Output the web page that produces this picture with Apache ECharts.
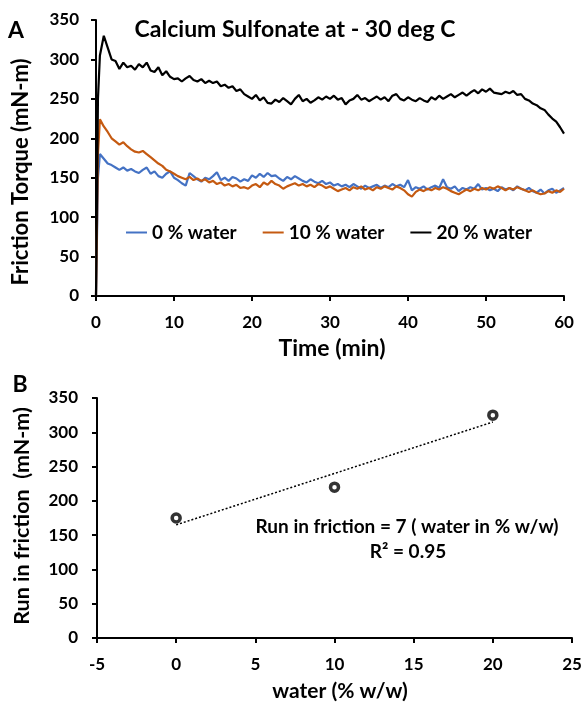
<!DOCTYPE html>
<html><head><meta charset="utf-8">
<script src="https://cdn.jsdelivr.net/npm/echarts@6/dist/echarts.min.js"></script>
<style>html,body{margin:0;padding:0;background:#fff}#c{width:585px;height:705px}</style>
</head><body><div id="c"></div>
<script>
// ---- Panel A data: friction torque (mN-m) vs time (min) ----
const times = [0,0.25,0.5,
 1,1.5,2,2.5,3,3.5,4,4.5,5,5.5,6,6.5,7,7.5,8,8.5,9,9.5,10,
 10.5,11,11.5,12,12.5,13,13.5,14,14.5,15,15.5,16,16.5,17,17.5,18,18.5,19,19.5,20,
 20.5,21,21.5,22,22.5,23,23.5,24,24.5,25,25.5,26,26.5,27,27.5,28,28.5,29,29.5,30,
 30.5,31,31.5,32,32.5,33,33.5,34,34.5,35,35.5,36,36.5,37,37.5,38,38.5,39,39.5,40,
 40.5,41,41.5,42,42.5,43,43.5,44,44.5,45,45.5,46,46.5,47,47.5,48,48.5,49,49.5,50,
 50.5,51,51.5,52,52.5,53,53.5,54,54.5,55,55.5,56,56.5,57,57.5,58,58.5,59,59.5,60];
const torque0 = [0,150,180,
 174,168,166,163,160,163,159,161,158,156,160,163,155,158,152,150,155,158,150,
 147,143,140,156,152,148,145,150,148,152,157,147,150,146,151,149,145,148,146,153,
 150,155,151,156,152,153,149,146,151,148,152,149,146,144,148,145,143,146,142,144,
 140,142,139,141,138,142,139,136,140,137,139,141,137,140,138,142,139,141,138,147,
 134,138,136,139,135,138,140,137,148,138,136,139,133,137,135,138,136,142,135,137,
 134,136,133,138,135,137,134,139,136,134,137,133,131,135,130,134,136,131,134,137];
const torque10 = [0,180,224,
 215,208,200,196,192,195,190,186,183,182,184,180,176,172,168,165,160,158,155,
 152,150,148,151,147,149,146,148,144,146,142,144,140,142,139,141,137,138,136,140,
 142,138,144,141,146,142,140,136,139,141,143,140,142,139,141,138,142,140,137,139,
 136,133,135,137,134,138,136,139,135,137,134,138,136,139,137,135,139,137,134,129,
 126,132,135,133,136,134,137,135,138,136,133,131,129,132,135,133,136,134,137,135,
 138,136,139,137,134,137,135,138,136,134,132,134,131,129,130,133,131,134,132,136];
const torque20 = [0,250,305,
 330,315,300,298,288,296,290,292,287,294,290,296,286,284,290,280,285,278,275,
 276,272,276,279,274,272,275,270,273,270,272,266,268,264,266,260,262,256,253,250,
 255,248,252,245,244,249,246,251,247,243,250,255,247,250,245,248,252,249,253,250,
 254,249,251,243,248,250,255,249,251,247,250,253,249,252,247,254,256,250,248,252,
 249,247,251,248,246,252,249,254,250,253,256,252,255,258,254,258,261,257,262,259,
 263,258,257,256,259,257,260,255,256,250,248,244,242,238,236,230,225,221,214,206];
const seriesNames = ['0 % water', '10 % water', '20 % water'];

// ---- Panel B data: run-in friction vs water content ----
const waterPct = [0, 10, 20];
const runInFriction = [175, 220, 325];

// ---- helpers ----
const FONT = 'Lato';
const zip = (xs, ys) => xs.map((x, i) => [x, ys[i]]);
const n = waterPct.length;
const mx = waterPct.reduce((a, b) => a + b, 0) / n;
const my = runInFriction.reduce((a, b) => a + b, 0) / n;
let sxy = 0, sxx = 0;
for (let i = 0; i < n; i++) { sxy += (waterPct[i] - mx) * (runInFriction[i] - my); sxx += (waterPct[i] - mx) ** 2; }
const slope = sxy / sxx, intercept = my - slope * mx;
const xLo = Math.min(...waterPct), xHi = Math.max(...waterPct);
const trend = [[xLo, intercept + slope * xLo], [xHi, intercept + slope * xHi]];

const axisCommon = {
  axisLine: { show: true, onZero: false, lineStyle: { color: '#000', width: 2 } },
  axisTick: { show: true, inside: false, length: 5, lineStyle: { color: '#000', width: 2 } },
  splitLine: { show: false },
  axisLabel: { color: '#000', fontWeight: 'bold', fontSize: 17, fontFamily: FONT }
};

const chart = echarts.init(document.getElementById('c'), null, { renderer: 'canvas' });
chart.setOption({
  backgroundColor: '#fff',
  animation: false,
  grid: [
    { left: 96, top: 20, width: 468, height: 276 },
    { left: 97, top: 398, width: 475, height: 240 }
  ],
  xAxis: [
    Object.assign({}, axisCommon, { gridIndex: 0, type: 'value', min: 0, max: 60, interval: 10,
      axisLabel: Object.assign({}, axisCommon.axisLabel, { margin: 18 }) }),
    Object.assign({}, axisCommon, { gridIndex: 1, type: 'value', min: -5, max: 25, interval: 5,
      axisLabel: Object.assign({}, axisCommon.axisLabel, { margin: 18 }) })
  ],
  yAxis: [
    Object.assign({}, axisCommon, { gridIndex: 0, type: 'value', min: 0, max: 350, interval: 50,
      axisLabel: Object.assign({}, axisCommon.axisLabel, { margin: 17 }) }),
    Object.assign({}, axisCommon, { gridIndex: 1, type: 'value', min: 0, max: 350, interval: 50,
      axisLabel: Object.assign({}, axisCommon.axisLabel, { margin: 19 }) })
  ],
  legend: {
    data: seriesNames,
    left: 121, top: 218,
    icon: 'rect', itemWidth: 21, itemHeight: 2, itemGap: 26,
    textStyle: { color: '#000', fontWeight: 'bold', fontSize: 19, fontFamily: FONT }
  },
  series: [
    { name: seriesNames[0], type: 'line', xAxisIndex: 0, yAxisIndex: 0, data: zip(times, torque0),
      showSymbol: false, color: '#4472C4', lineStyle: { width: 2.2, color: '#4472C4' } },
    { name: seriesNames[1], type: 'line', xAxisIndex: 0, yAxisIndex: 0, data: zip(times, torque10),
      showSymbol: false, color: '#C55A11', lineStyle: { width: 2.2, color: '#C55A11' } },
    { name: seriesNames[2], type: 'line', xAxisIndex: 0, yAxisIndex: 0, data: zip(times, torque20),
      showSymbol: false, color: '#000', lineStyle: { width: 2.2, color: '#000' } },
    { name: 'trend', type: 'line', xAxisIndex: 1, yAxisIndex: 1, data: trend, showSymbol: false,
      lineStyle: { width: 1.5, color: '#000', type: [2, 2] }, z: 3 },
    { name: 'runin', type: 'scatter', xAxisIndex: 1, yAxisIndex: 1, data: zip(waterPct, runInFriction),
      symbol: 'circle', symbolSize: 8, z: 4,
      itemStyle: { color: '#fff', borderColor: '#000', borderWidth: 3.5 } }
  ],
  graphic: [
    { type: 'text', style: { text: 'A', x: 16, y: 31, textAlign: 'center', textVerticalAlign: 'middle', font: 'bold 23px ' + FONT, fill: '#000' } },
    { type: 'text', style: { text: 'B', x: 20, y: 385, textAlign: 'center', textVerticalAlign: 'middle', font: 'bold 23px ' + FONT, fill: '#000' } },
    { type: 'text', style: { text: 'Calcium Sulfonate at - 30 deg C', x: 295, y: 30, textAlign: 'center', textVerticalAlign: 'middle', font: 'bold 23px ' + FONT, fill: '#000' } },
    { type: 'text', rotation: Math.PI / 2, x: 21, y: 172, style: { text: 'Friction Torque (mN-m)', x: 0, y: 0, textAlign: 'center', textVerticalAlign: 'middle', font: 'bold 22px ' + FONT, fill: '#000' } },
    { type: 'text', style: { text: 'Time (min)', x: 332, y: 349, textAlign: 'center', textVerticalAlign: 'middle', font: 'bold 23px ' + FONT, fill: '#000' } },
    { type: 'text', rotation: Math.PI / 2, x: 22, y: 516, style: { text: 'Run in friction  (mN-m)', x: 0, y: 0, textAlign: 'center', textVerticalAlign: 'middle', font: 'bold 21.5px ' + FONT, fill: '#000' } },
    { type: 'text', style: { text: 'water (% w/w)', x: 340, y: 691, textAlign: 'center', textVerticalAlign: 'middle', font: 'bold 21px ' + FONT, fill: '#000' } },
    { type: 'text', style: { text: 'Run in friction = 7 ( water in % w/w)', x: 407, y: 527, textAlign: 'center', textVerticalAlign: 'middle', font: 'bold 19px ' + FONT, fill: '#000' } },
    { type: 'text', style: { text: 'R² = 0.95', x: 408, y: 552, textAlign: 'center', textVerticalAlign: 'middle', font: 'bold 19px ' + FONT, fill: '#000' } }
  ]
});
</script>
</body></html>
